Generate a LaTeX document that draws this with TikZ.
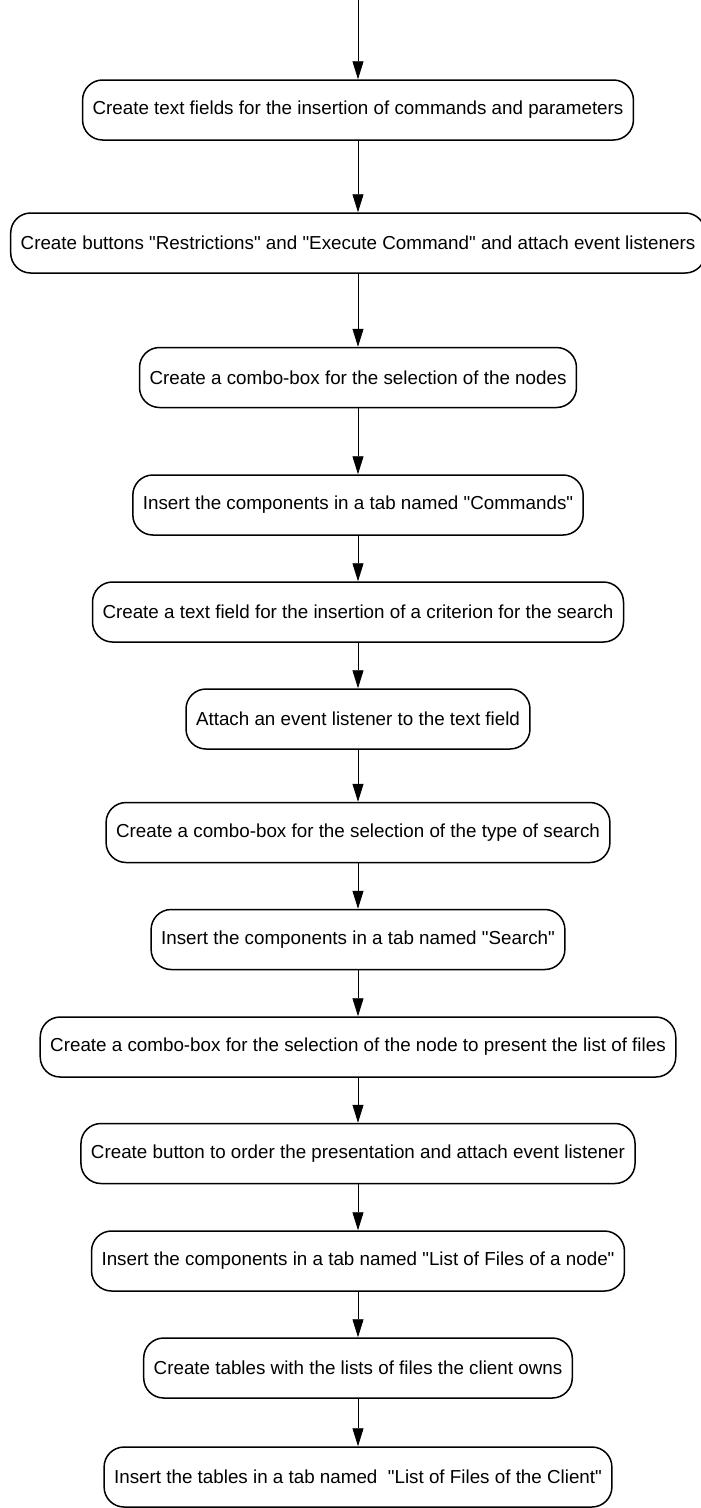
\documentclass[tikz,border=0pt]{standalone}
\usepackage{fontspec}
\setmainfont{Liberation Sans}
\usetikzlibrary{arrows.meta}
\newcommand{\qq}{\textquotedbl}

\begin{document}
\begin{tikzpicture}[x=1pt,y=-1pt,
    schritt/.style = {draw, line width=1.5pt, rounded corners=20pt, minimum height=60pt, inner xsep=10pt, font=\fontsize{18.8}{22}\selectfont},
    pfeil/.style = {->, line width=0.8pt},
    >={Triangle[length=18pt,width=11pt]}]
    \useasboundingbox (0,0) rectangle (701,1508);

    % Einstieg von oben
    \coordinate (S) at (358,0);

    % Reiter "Commands"
    \node[schritt] (B1) at (358,110) {Create text fields for the insertion of commands and parameters};
    \node[schritt] (B2) at (358,243) {Create buttons \qq Restrictions\qq{} and \qq Execute Command\qq{} and attach event listeners};
    \node[schritt] (B3) at (358,377.5) {Create a combo-box for the selection of the nodes};
    \node[schritt] (B4) at (358,505) {Insert the components in a tab named \qq Commands\qq};

    % Reiter "Search"
    \node[schritt] (B5) at (358,612) {Create a text field for the insertion of a criterion for the search};
    \node[schritt] (B6) at (358,719) {Attach an event listener to the text field};
    \node[schritt] (B7) at (358,832.5) {Create a combo-box for the selection of the type of search};
    \node[schritt] (B8) at (358,939.5) {Insert the components in a tab named \qq Search\qq};

    % Reiter Dateiliste eines Knotens
    \node[schritt] (B9) at (358,1047) {Create a combo-box for the selection of the node to present the list of files};
    \node[schritt] (B10) at (358,1153.5) {Create button to order the presentation and attach event listener};
    \node[schritt] (B11) at (358,1261) {Insert the components in a tab named \qq List of Files of a node\qq};

    % Reiter Dateiliste des Clients
    \node[schritt] (B12) at (358,1368) {Create tables with the lists of files the client owns};
    \node[schritt] (B13) at (358,1477) {Insert the tables in a tab named\ \ \qq List of Files of the Client\qq};

    % Pfeile zwischen den Schritten
    \draw[pfeil] (S) -- (B1);
    \draw[pfeil] (B1) -- (B2);
    \draw[pfeil] (B2) -- (B3);
    \draw[pfeil] (B3) -- (B4);
    \draw[pfeil] (B4) -- (B5);
    \draw[pfeil] (B5) -- (B6);
    \draw[pfeil] (B6) -- (B7);
    \draw[pfeil] (B7) -- (B8);
    \draw[pfeil] (B8) -- (B9);
    \draw[pfeil] (B9) -- (B10);
    \draw[pfeil] (B10) -- (B11);
    \draw[pfeil] (B11) -- (B12);
    \draw[pfeil] (B12) -- (B13);

\end{tikzpicture}
\end{document}
